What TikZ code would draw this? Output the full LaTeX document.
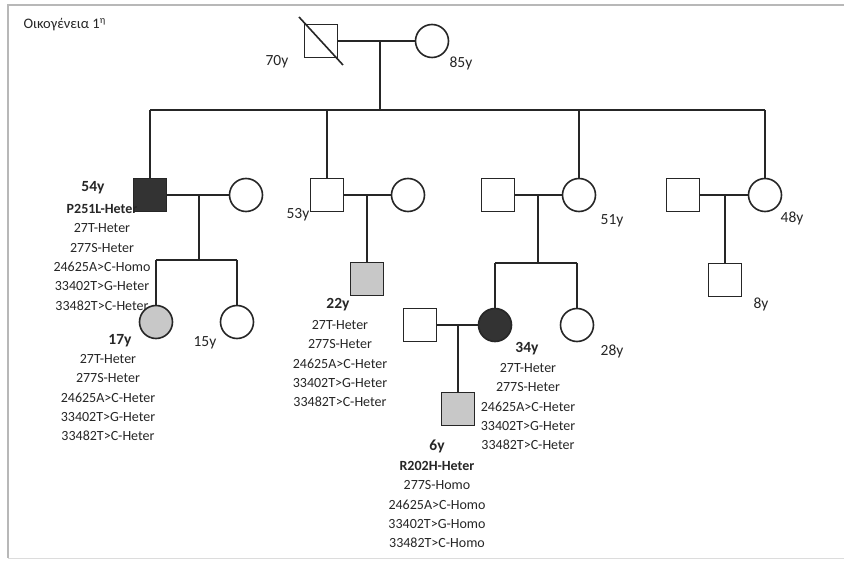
\documentclass[tikz,border=0pt]{standalone}
\usepackage{fontspec}
\setmainfont{Carlito}
\definecolor{ink}{HTML}{262626}
\definecolor{darkfill}{HTML}{333333}
\definecolor{grayfill}{HTML}{C8C8C8}
\definecolor{framec}{HTML}{B8B8B8}
\begin{document}
\begin{tikzpicture}[x=1pt,y=-1pt,
  lw/.style={line width=1.6pt, draw=ink},
  male/.style={lw, rectangle, minimum size=33pt, inner sep=0pt},
  female/.style={lw, circle, minimum size=33pt, inner sep=0pt},
  affdark/.style={fill=darkfill},
  affgray/.style={fill=grayfill},
  age/.style={font=\fontsize{15.5}{18}\selectfont, text=ink, inner sep=0pt},
  agebold/.style={font=\fontsize{15.5}{18}\selectfont\bfseries, text=ink, inner sep=0pt},
  geno/.style={font=\fontsize{14}{19.4}\selectfont, text=ink, align=center, inner sep=0pt, anchor=north},
]
\useasboundingbox (0,0) rectangle (844,561);
\fill[white] (0,0) rectangle (844,561);
\draw[framec, line width=1.5pt] (844,5) -- (8,5) -- (8,558);
\draw[framec!50, line width=0.8pt] (8,558) -- (844,558);

\node[anchor=west, font=\fontsize{14.5}{17}\selectfont, text=ink] (title) at (20,25) {Οικογένεια 1\textsuperscript{η}};

% generation I
\node[male] (gf) at (321,41) {};
\draw[lw] (gf.center) ++(-22,-24) coordinate (dA) -- ++(44,48) coordinate (dB);
\node[female] (gm) at (432,41) {};
\draw[lw] (gf.east) -- (gm.west);
\coordinate (m0) at (380,41);
\coordinate (s0) at (380,110);
\draw[lw] (m0) -- (s0);
\coordinate (sL) at (150,110);
\coordinate (sR) at (765,110);
\draw[lw] (sL) -- (sR);
\node[age] (a70) at (277,62) {70y};
\node[age] (a85) at (461,63) {85y};

% generation II
\node[male, affdark] (A) at (150,195) {};
\node[female] (Aw) at (246,195) {};
\node[male] (B) at (327,195) {};
\node[female] (Bw) at (408,195) {};
\node[male] (C) at (498,195) {};
\node[female] (Cw) at (579,195) {};
\node[male] (D) at (683,195) {};
\node[female] (Dw) at (765,195) {};
\draw[lw] (sL) -- (A.north);
\draw[lw] (B.north |- sL) -- (B.north);
\draw[lw] (Cw.north |- sL) -- (Cw.north);
\draw[lw] (sR) -- (Dw.north);
\draw[lw] (A.east) -- (Aw.west);
\draw[lw] (B.east) -- (Bw.west);
\draw[lw] (C.east) -- (Cw.west);
\draw[lw] (D.east) -- (Dw.west);

% family A
\coordinate (mA) at (199,195);
\coordinate (sA) at (199,260);
\coordinate (sAL) at (156,260);
\coordinate (sAR) at (237,260);
\draw[lw] (mA) -- (sA);
\draw[lw] (sAL) -- (sAR);
\node[female, affgray] (A1) at (156,322) {};
\node[female] (A2) at (237,322) {};
\draw[lw] (sAL) -- (A1.north);
\draw[lw] (sAR) -- (A2.north);

% family B
\coordinate (mB) at (367,195);
\node[male, affgray] (B1) at (367,279) {};
\draw[lw] (mB) -- (B1.north);

% family C
\coordinate (mC) at (538,195);
\coordinate (sC) at (538,263);
\coordinate (sCL) at (495,263);
\coordinate (sCR) at (577,263);
\draw[lw] (mC) -- (sC);
\draw[lw] (sCL) -- (sCR);
\node[female, affdark] (C1) at (495,325) {};
\node[female] (C2) at (577,325) {};
\draw[lw] (sCL) -- (C1.north);
\draw[lw] (sCR) -- (C2.north);
\node[male] (C1h) at (420,325) {};
\draw[lw] (C1h.east) -- (C1.west);
\coordinate (mC1) at (458,325);
\node[male, affgray] (C11) at (458,409) {};
\draw[lw] (mC1) -- (C11.north);

% family D
\coordinate (mD) at (725,195);
\node[male] (D1) at (725,280) {};
\draw[lw] (mD) -- (D1.north);

% labels
\node[agebold] (l54) at (93,188) {54y};
\node[geno] (g54) at (102,204) {\textbf{P251L-Heter}\\27T-Heter\\277S-Heter\\24625A>C-Homo\\33402T>G-Heter\\33482T>C-Heter};
\node[age] (l53) at (298,215) {53y};
\node[age] (l51) at (612,221) {51y};
\node[age] (l48) at (792,218) {48y};
\node[age] (l8) at (761,304) {8y};
\node[agebold] (l17) at (120,341) {17y};
\node[geno] (g17) at (108,354) {27T-Heter\\277S-Heter\\24625A>C-Heter\\33402T>G-Heter\\33482T>C-Heter};
\node[age] (l15) at (205,343) {15y};
\node[agebold] (l22) at (338,305) {22y};
\node[geno] (g22) at (340,320) {27T-Heter\\277S-Heter\\24625A>C-Heter\\33402T>G-Heter\\33482T>C-Heter};
\node[agebold] (l34) at (527,349) {34y};
\node[geno] (g34) at (528,363) {27T-Heter\\277S-Heter\\24625A>C-Heter\\33402T>G-Heter\\33482T>C-Heter};
\node[age] (l28) at (612,351) {28y};
\node[agebold] (l6) at (437,446) {6y};
\node[geno] (g6) at (437,461) {\textbf{R202H-Heter}\\277S-Homo\\24625A>C-Homo\\33402T>G-Homo\\33482T>C-Homo};
\end{tikzpicture}
\end{document}
